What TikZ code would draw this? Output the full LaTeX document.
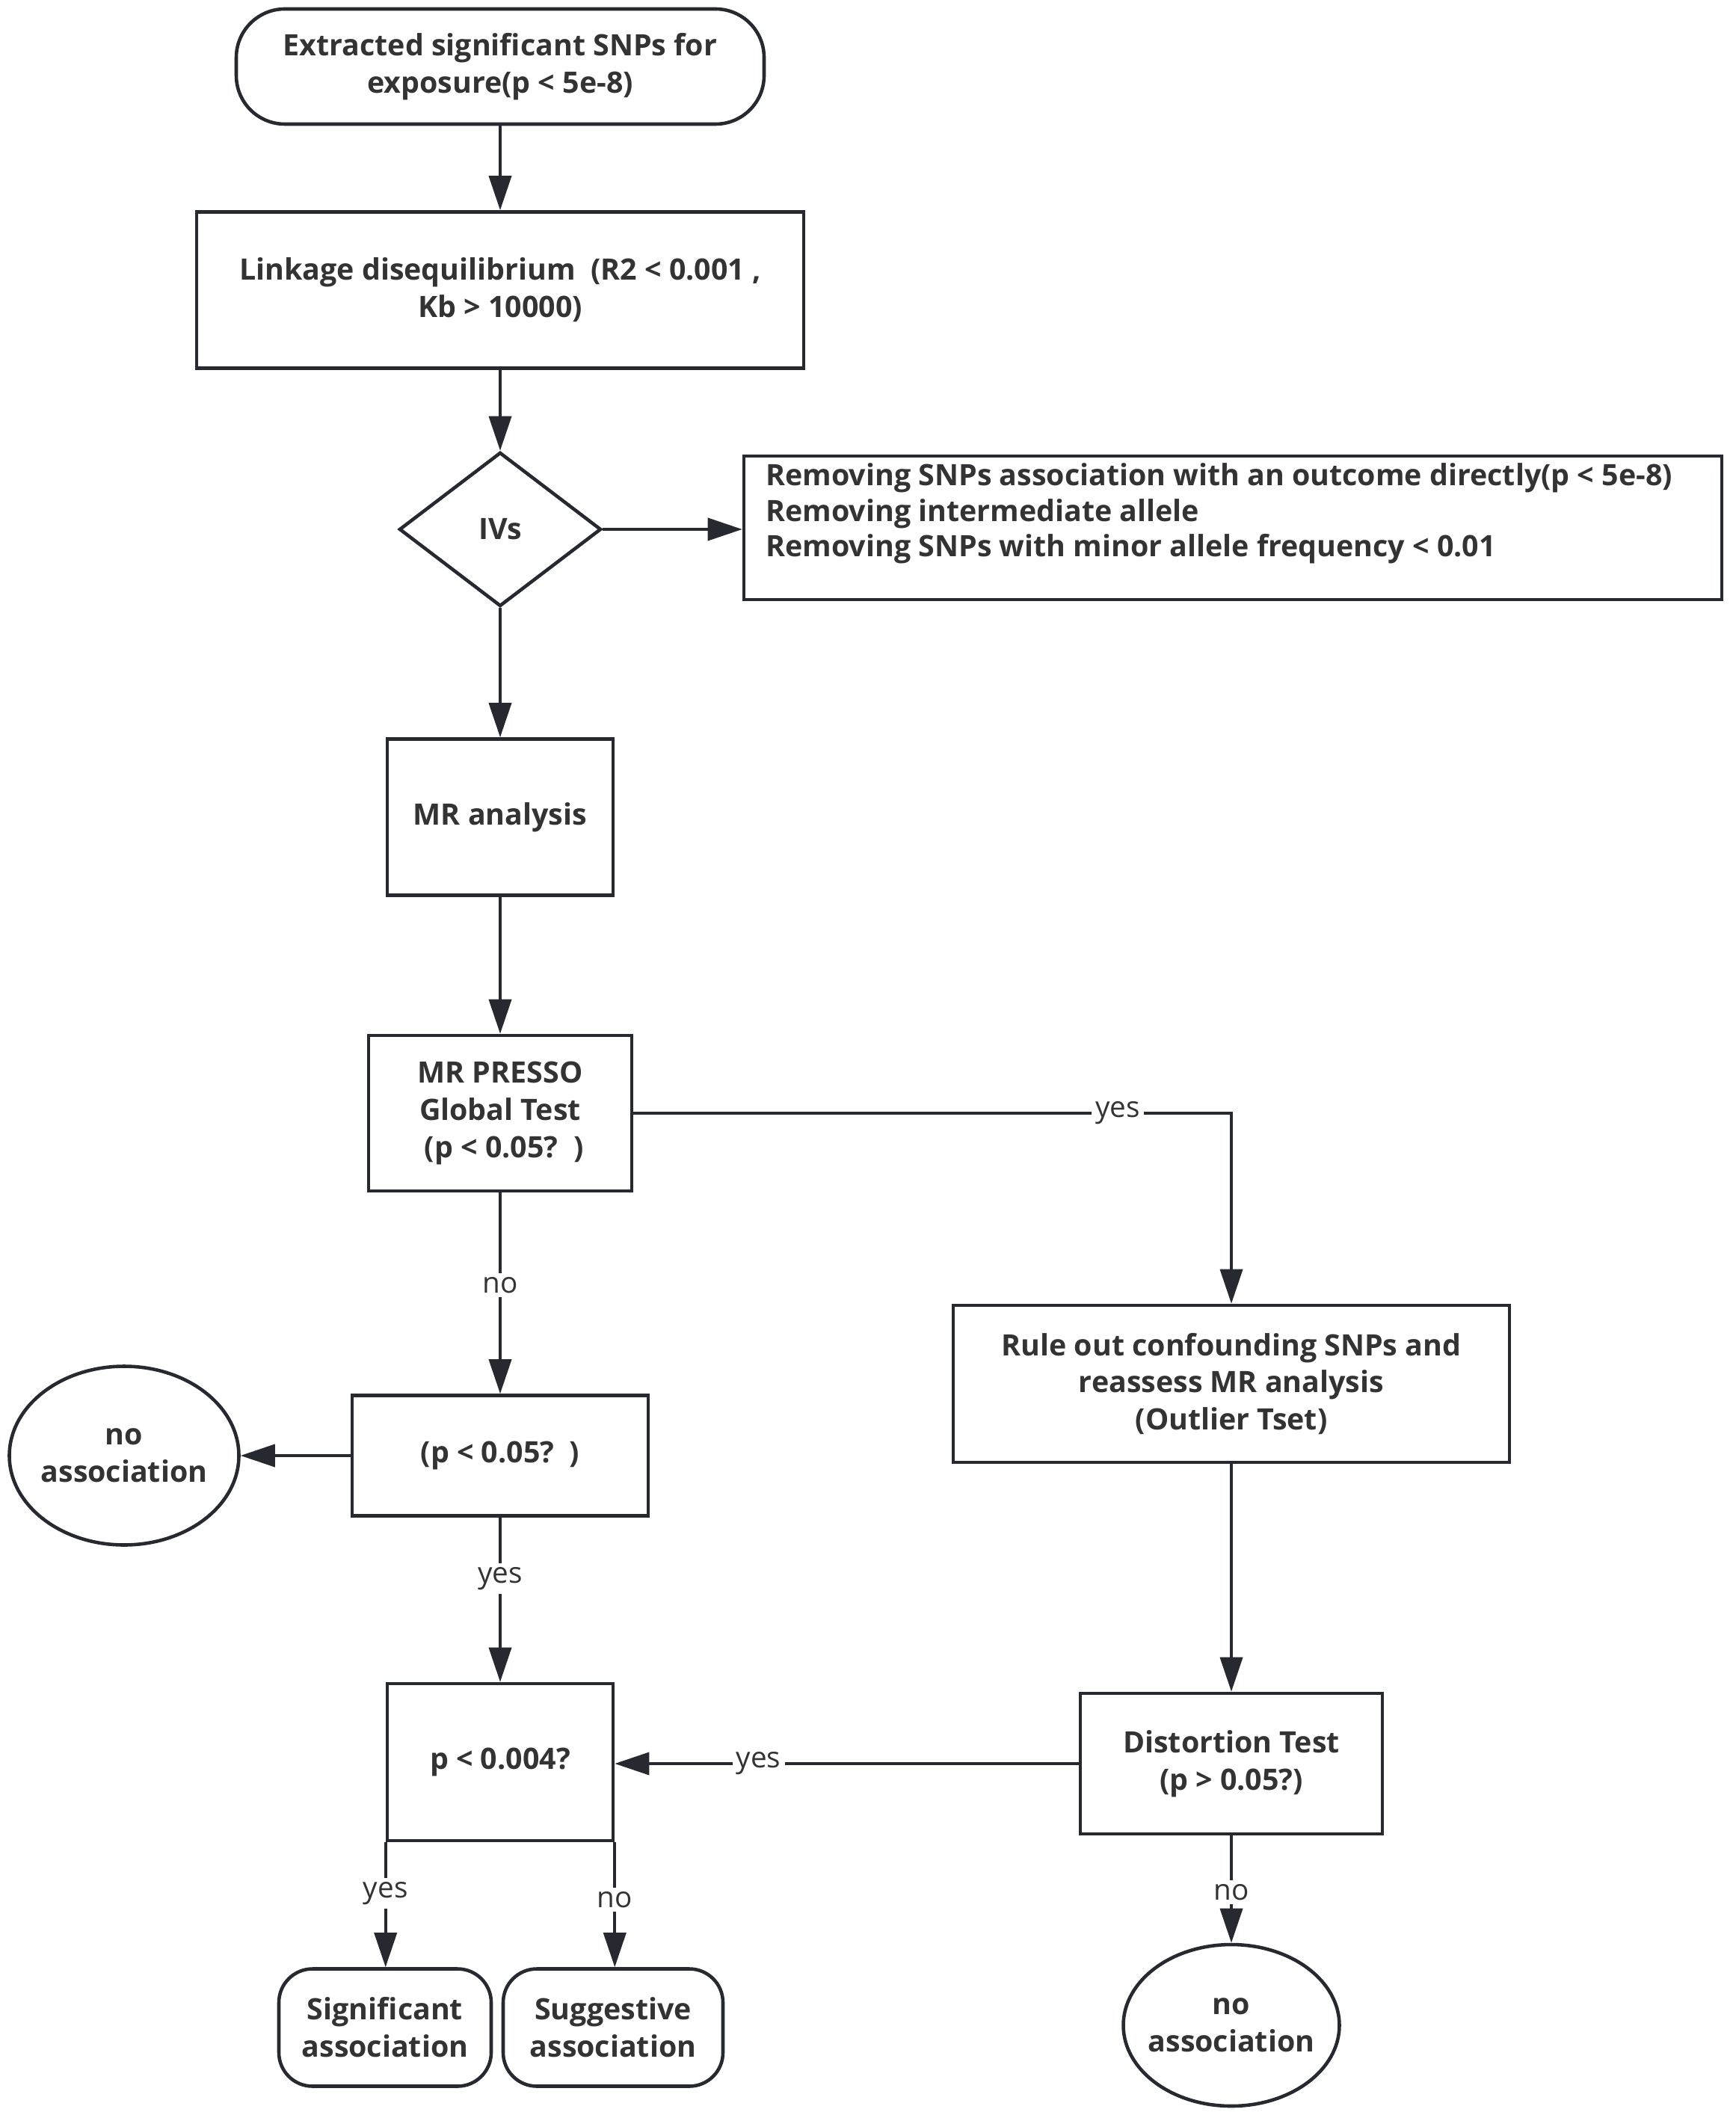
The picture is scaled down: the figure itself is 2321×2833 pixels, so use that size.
\documentclass[tikz,border=0pt]{standalone}
\usepackage{fontspec}
\setmainfont{Open Sans}
\usetikzlibrary{shapes.geometric,arrows.meta}
\definecolor{ink}{HTML}{262A30}
\definecolor{txt}{HTML}{333333}
\tikzset{
  box/.style={draw=ink, line width=1.3pt, fill=white, align=center, text=txt,
    font=\fontsize{11.2}{14.2}\selectfont\bfseries, inner sep=0pt},
  oval/.style={box, ellipse, inner sep=-2.5mm},
  arr/.style={draw=ink, line width=1.05pt, -{Triangle[length=4.6mm,width=3mm]}},
  lbl/.style={fill=white, text=txt, font=\fontsize{11}{13}\selectfont, inner sep=1.5pt}
}
\begin{document}
\begin{tikzpicture}[x=0.1mm,y=-0.1mm]
\path[use as bounding box, fill=white] (0,0) rectangle (2321,2833);
% nodes
\node[box, rounded corners=6.5mm, minimum width=70.6mm, minimum height=15.4mm] (start) at (669,89)
  {Extracted significant SNPs for\\exposure(p < 5e-8)};
\node[box, minimum width=81.2mm, minimum height=20.9mm] (ld) at (669,388)
  {Linkage disequilibrium\ \ (R2 < 0.001 ,\\Kb > 10000)};
\node[box, diamond, aspect=1.3, minimum width=27mm, minimum height=20.6mm] (ivs) at (669,708) {IVs};
\node[box, minimum width=130.8mm, minimum height=19.2mm] (rem) at (1649,706) {};
\node[anchor=north west, align=left, text=txt, inner sep=0pt,
  font=\fontsize{11.2}{13.6}\selectfont\bfseries] (remtxt) at ([xshift=3.1mm,yshift=-1.1mm]rem.north west)
  {Removing SNPs association with an outcome directly(p < 5e-8)\\
   Removing intermediate allele\\
   Removing SNPs with minor allele frequency < 0.01};
\node[box, minimum width=30.2mm, minimum height=20.9mm] (mra) at (669,1093) {MR analysis};
\node[box, minimum width=35.2mm, minimum height=20.8mm] (presso) at (669,1489)
  {MR PRESSO\\Global Test\\\ (p < 0.05?\ \ )};
\node[box, minimum width=74.4mm, minimum height=21mm] (rule) at (1647,1851)
  {Rule out confounding SNPs and\\reassess MR analysis\\(Outlier Tset)};
\node[box, minimum width=39.6mm, minimum height=16.1mm] (p05) at (669,1947) {(p < 0.05?\ \ )};
\node[oval, minimum width=30.7mm, minimum height=23.9mm] (noas1) at (166,1947) {no\\association};
\node[box, minimum width=30.2mm, minimum height=21mm] (p004) at (669,2357) {p < 0.004?};
\node[box, minimum width=40.4mm, minimum height=18.8mm] (dist) at (1647,2359) {Distortion Test\\(p > 0.05?)};
\node[oval, minimum width=28.9mm, minimum height=21.6mm] (noas2) at (1647,2709) {no\\association};
\node[box, rounded corners=4.5mm, minimum width=28.4mm, minimum height=15.7mm] (sig) at (515,2712)
  {Significant\\association};
\node[box, rounded corners=4.5mm, minimum width=29.4mm, minimum height=15.7mm] (sug) at (820,2712)
  {Suggestive\\association};
% helper coordinates
\coordinate (c1) at (rule.north |- presso.east);
% connectors
\draw[arr] (start.south) -- (ld.north);
\draw[arr] (ld.south) -- (ivs.north);
\draw[arr] (ivs.east) -- (rem.west |- ivs.east);
\draw[arr] (ivs.south) -- (mra.north);
\draw[arr] (mra.south) -- (presso.north);
\draw[arr] (presso.east) -- node[lbl, pos=0.81] {yes} (c1) -- (rule.north);
\draw[arr] (presso.south) -- node[lbl, pos=0.46] {no} (p05.north);
\draw[arr] (p05.west) -- (noas1.east);
\draw[arr] (p05.south) -- node[lbl, pos=0.37] {yes} (p004.north);
\draw[arr] (rule.south) -- (dist.north);
\draw[arr] (dist.west) -- node[lbl, pos=0.69] {yes} (dist.west -| p004.east);
\draw[arr] (dist.south) -- node[lbl, pos=0.53] {no} (noas2.north);
\draw[arr] (p004.south west) -- node[lbl, pos=0.41] {yes} (p004.south west |- sig.north);
\draw[arr] (p004.south east) -- node[lbl, pos=0.46] {no} (p004.south east |- sug.north);
\end{tikzpicture}
\end{document}
